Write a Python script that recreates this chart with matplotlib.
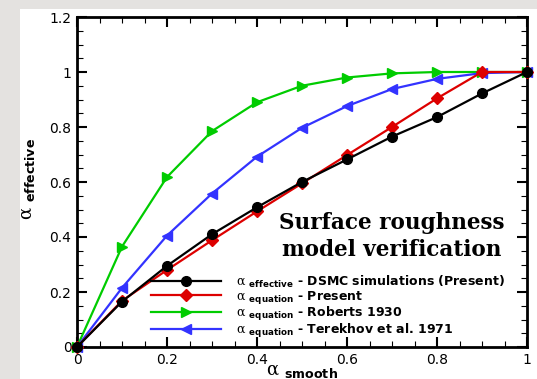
import matplotlib
matplotlib.use('Agg')
import matplotlib.pyplot as plt
from matplotlib.patches import Rectangle
from matplotlib.ticker import MultipleLocator

# data
x_smooth = [0, 0.1, 0.2, 0.3, 0.4, 0.5, 0.6, 0.7, 0.8, 0.9, 1.0]
dsmc = [0, 0.165, 0.295, 0.41, 0.508, 0.60, 0.682, 0.765, 0.836, 0.922, 1.0]
present = [0, 0.168, 0.28, 0.388, 0.493, 0.595, 0.698, 0.80, 0.904, 1.0, 1.0]
roberts = [0, 0.365, 0.618, 0.785, 0.89, 0.95, 0.98, 0.995, 1.0, 1.0, 1.0]
terekhov = [0, 0.215, 0.405, 0.558, 0.692, 0.797, 0.876, 0.938, 0.975, 0.996, 1.0]

labels = [r'$\alpha$ $_{\mathbf{effective}}$ - DSMC simulations (Present)',
          r'$\alpha$ $_{\mathbf{equation}}$ - Present',
          r'$\alpha$ $_{\mathbf{equation}}$ - Roberts 1930',
          r'$\alpha$ $_{\mathbf{equation}}$ - Terekhov et al. 1971']

plt.rcParams['font.family'] = ['DejaVu Sans']
plt.rcParams['mathtext.fontset'] = 'custom'
plt.rcParams['mathtext.rm'] = 'DejaVu Sans'
plt.rcParams['mathtext.bf'] = 'DejaVu Sans:bold'
plt.rcParams['mathtext.it'] = 'DejaVu Serif'

W, H = 537, 379
fig = plt.figure(figsize=(W / 100, H / 100), dpi=100)
fig.patch.set_facecolor('#e4e2e0')
# white panel behind the plot
panel = Rectangle((20 / W, 0), 1 - 20 / W, 1 - 9 / H, transform=fig.transFigure,
                  facecolor='white', edgecolor='none', zorder=-5)
fig.patches.append(panel)

ax = fig.add_axes([77 / W, (H - 347) / H, 450 / W, 330 / H])
ax.set_facecolor('white')

ax.plot(x_smooth, dsmc, color='black', lw=1.6, marker='o', ms=7, label=labels[0], zorder=5, clip_on=False)
ax.plot(x_smooth, present, color='#dd0000', lw=1.6, marker='D', ms=6, label=labels[1], zorder=4, clip_on=False)
ax.plot(x_smooth, roberts, color='#00cc00', lw=1.6, marker='>', ms=7, label=labels[2], zorder=3, clip_on=False)
ax.plot(x_smooth, terekhov, color='#3333ff', lw=1.6, marker='<', ms=7, label=labels[3], zorder=3, clip_on=False)

ax.set_xlim(0, 1)
ax.set_ylim(0, 1.2)
ax.xaxis.set_minor_locator(MultipleLocator(0.05))
ax.yaxis.set_minor_locator(MultipleLocator(0.05))
ax.set_xticks([0, 0.2, 0.4, 0.6, 0.8, 1.0])
ax.set_xticklabels(['0', '0.2', '0.4', '0.6', '0.8', '1'])
ax.set_yticks([0, 0.2, 0.4, 0.6, 0.8, 1.0, 1.2])
ax.set_yticklabels(['0', '0.2', '0.4', '0.6', '0.8', '1', '1.2'])
ax.tick_params(which='both', direction='in', top=True, right=True, labelsize=10, pad=4)
ax.tick_params(which='major', length=7, width=1.5)
ax.tick_params(which='minor', length=4.3, width=0.8)
for s in ax.spines.values():
    s.set_linewidth(2)

ax.set_xlabel(r'$\alpha$ $_{\mathbf{smooth}}$', fontsize=13)
ax.set_ylabel(r'$\alpha$ $_{\mathbf{effective}}$', fontsize=13)
ax.xaxis.set_label_coords(0.5, -0.045)
ax.yaxis.set_label_coords(-0.088, 0.51)

ax.text(0.7, 0.335, 'Surface roughness\nmodel verification', transform=ax.transAxes,
        ha='center', va='center', fontsize=15.5, fontweight='bold', family='DejaVu Serif',
        linespacing=1.25)

leg = ax.legend(loc='upper left', bbox_to_anchor=(0.165, 0.222), frameon=False, numpoints=1,
                prop={'weight': 'bold', 'size': 9}, handlelength=5.6, handletextpad=1.2,
                labelspacing=-0.08, borderpad=0, borderaxespad=0)

fig.savefig('out.png', dpi=100, facecolor=fig.get_facecolor())
